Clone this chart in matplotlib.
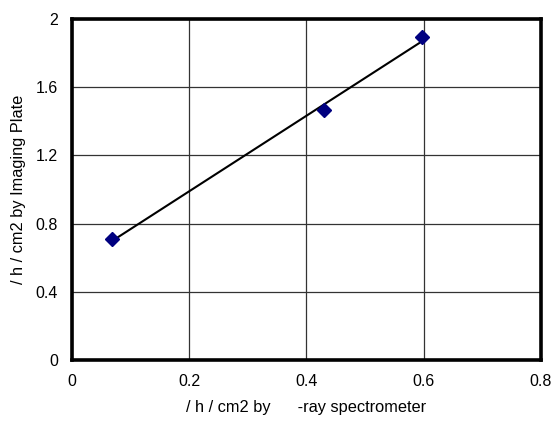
import numpy as np
import matplotlib.pyplot as plt

plt.rcParams['font.family'] = ['Liberation Sans', 'DejaVu Sans']

# dose rate by gamma-ray spectrometer vs imaging plate
x_spec = [0.068, 0.43, 0.598]
y_ip = [0.707, 1.466, 1.893]
x_ticks = [0, 0.2, 0.4, 0.6, 0.8]
y_ticks = [0, 0.4, 0.8, 1.2, 1.6, 2]

fig = plt.figure(figsize=(5.53, 4.22), dpi=100)
ax = fig.add_axes([0.130, 0.147, 0.848, 0.808])

# linear fit line over the data range
coef = np.polyfit(x_spec, y_ip, 1)
xf = np.array([min(x_spec), max(x_spec)])
ax.plot(xf, np.polyval(coef, xf), color='black', lw=1.5, zorder=3)

ax.plot(x_spec, y_ip, linestyle='none', marker='D', ms=7.5,
        color='#000080', zorder=4)

ax.set_xlim(0, 0.8)
ax.set_ylim(0, 2)
ax.set_xticks(x_ticks)
ax.set_yticks(y_ticks)
ax.set_xticklabels(['0', '0.2', '0.4', '0.6', '0.8'])
ax.set_yticklabels(['0', '0.4', '0.8', '1.2', '1.6', '2'])
ax.grid(True, color='#333333', lw=0.9)
ax.set_axisbelow(True)
ax.tick_params(length=0, labelsize=11.5, pad=10)

for s in ax.spines.values():
    s.set_linewidth(2.6)
    s.set_color('black')

ax.set_xlabel('/ h / cm2 by      -ray spectrometer', fontsize=11.8, labelpad=8)
ax.set_ylabel('/ h / cm2 by Imaging Plate', fontsize=11.8, labelpad=7)

plt.savefig('out.png', dpi=100)
